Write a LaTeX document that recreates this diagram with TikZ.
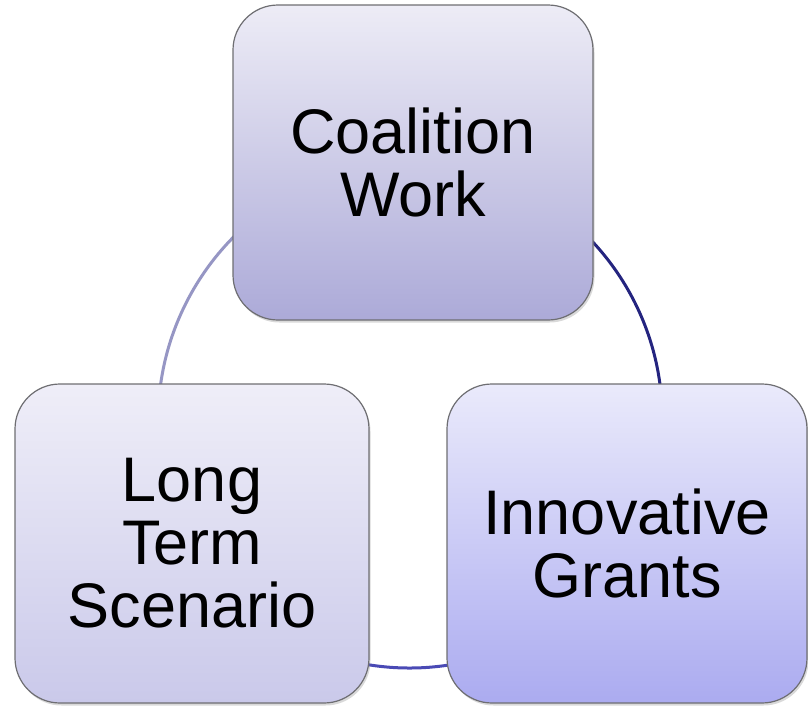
\documentclass[tikz,border=0pt]{standalone}
\usepackage{fontspec}
\setmainfont{Liberation Sans}
\usetikzlibrary{backgrounds,shadows}
\definecolor{boxline}{HTML}{6E6E72}
\definecolor{coalTop}{HTML}{EDECF6}
\definecolor{coalBot}{HTML}{ACAAD8}
\definecolor{longTop}{HTML}{EFEEF8}
\definecolor{longBot}{HTML}{CAC9EA}
\definecolor{grantTop}{HTML}{EAEAFB}
\definecolor{grantBot}{HTML}{ABABF0}
\definecolor{arcPale}{HTML}{9696C4}
\definecolor{arcDark}{HTML}{24247F}
\definecolor{arcMid}{HTML}{4A4AB5}
\begin{document}
\begin{tikzpicture}[x=1pt,y=1pt,
    phase/.style={draw=boxline, line width=1.2pt, rounded corners=45pt,
      align=center, inner sep=0pt, font=\fontsize{63}{63}\selectfont,
      drop shadow={shadow xshift=1.5pt, shadow yshift=-2.5pt, opacity=0.3}},
    loopline/.style={line width=3pt, looseness=1.13}]
  \useasboundingbox (0,0) rectangle (808,-707);
  % the three boxes
  \node [phase, minimum width=360pt, minimum height=315pt,
    top color=coalTop, bottom color=coalBot] (coalition) at (413,-162.5) {Coalition\\Work};
  \node [phase, minimum width=354pt, minimum height=319pt,
    top color=longTop, bottom color=longBot] (longterm) at (192,-543.5) {Long\\Term\\Scenario};
  \node [phase, minimum width=360pt, minimum height=319pt,
    top color=grantTop, bottom color=grantBot] (grants) at (627,-543.5) {Innovative\\Grants};
  % ring behind the boxes
  \begin{scope}[on background layer]
    \draw [loopline, arcPale] (coalition.center) to[bend right=60] (longterm.center);
    \draw [loopline, arcDark] (coalition.center) to[bend left=60] (grants.center);
    \draw [loopline, arcMid] (longterm.center) to[bend right=60] (grants.center);
  \end{scope}
\end{tikzpicture}
\end{document}
